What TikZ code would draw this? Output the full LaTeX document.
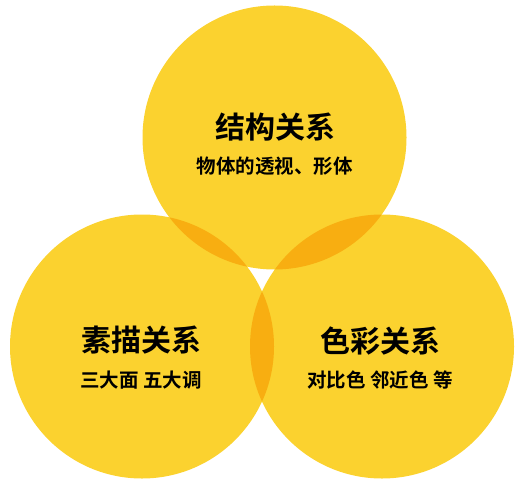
\documentclass[tikz,border=0pt]{standalone}
\usepackage{fontspec}
\newfontfamily\cjk{Noto Sans CJK SC}[BoldFont={Noto Sans CJK SC Bold}]
\definecolor{yel}{RGB}{251,210,47}
\definecolor{ovl}{RGB}{248,174,17}
\tikzset{
  circ/.style={fill=yel, draw=none},
  ttl/.style={font=\cjk\bfseries\fontsize{30}{32}\selectfont, inner sep=0pt},
  sub/.style={font=\cjk\bfseries\fontsize{19.5}{21}\selectfont, inner sep=0pt},
}
\begin{document}
\begin{tikzpicture}[x=1pt,y=-1pt]
\useasboundingbox (0,0) rectangle (526,486);
\coordinate (T) at (274.5,137.5);
\coordinate (L) at (142,346.5);
\coordinate (R) at (382,346.5);
\def\rad{132}
\fill[yel] (T) circle (\rad);
\fill[yel] (L) circle (\rad);
\fill[yel] (R) circle (\rad);
\begin{scope}
  \clip (T) circle (\rad);
  \fill[ovl] (L) circle (\rad);
  \fill[ovl] (R) circle (\rad);
\end{scope}
\begin{scope}
  \clip (L) circle (\rad);
  \fill[ovl] (R) circle (\rad);
\end{scope}
\node[ttl] (t1) at (275,127) {结构关系};
\node[sub] (s1) at (274.5,166) {物体的透视、形体};
\node[ttl] (t2) at (141.5,340.5) {素描关系};
\node[sub] (s2) at (141,380) {三大面 五大调};
\node[ttl] (t3) at (380,340.5) {色彩关系};
\node[sub] (s3) at (380,380) {对比色 邻近色 等};
\end{tikzpicture}
\end{document}
